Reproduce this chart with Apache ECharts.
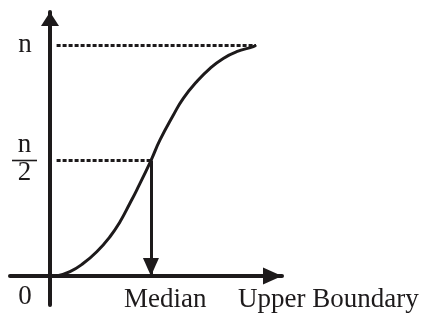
<!DOCTYPE html>
<html>
<head>
<meta charset="utf-8">
<script src="https://cdn.jsdelivr.net/npm/echarts@6/dist/echarts.min.js"></script>
<style>
  html, body { margin: 0; padding: 0; background: #fff; }
  #chart { width: 422px; height: 322px; }
</style>
</head>
<body>
<div id="chart"></div>
<script>
// ogive: cumulative frequency (0..n scaled to 0..100) vs upper class boundary
const upperBoundary = [3.2, 9.7, 16.2, 22.7, 29.1, 34.0, 38.8, 42.1, 49.0, 53.4, 59.9, 64.7, 71.2, 77.7, 84.1, 90.6, 98.7, 100];
const cumFreq = [0, 1.9, 5.5, 10.5, 17.0, 23.5, 31.5, 37.2, 50, 58.9, 69.7, 76.9, 84.1, 89.9, 94.2, 97.1, 99.3, 100];
const total = 100; // n
const half = 50; // n/2
const median = 49;
const dotStart = 3.2; // dotted guides start just right of the y axis
const yTickLabels = ['0', 'n/2', 'n'];
const xTickLabels = ['Median', 'Upper Boundary'];

const ink = '#1d1a1b';
const serif = '"Liberation Serif", "Times New Roman", serif';

const chart = echarts.init(document.getElementById('chart'));

const option = {
  animation: false,
  grid: { left: 10, right: 140, top: 12, bottom: 17 },
  xAxis: {
    type: 'value',
    min: -19.42,
    max: 112.62,
    axisLine: {
      onZero: true,
      lineStyle: { color: ink, width: 4 },
      symbol: ['none', 'triangle'],
      symbolSize: [17, 19],
      symbolOffset: [0, -9.5],
    },
    axisTick: { show: false },
    axisLabel: { show: false },
    splitLine: { show: false },
  },
  yAxis: {
    type: 'value',
    min: -12.55,
    max: 114.29,
    axisLine: {
      onZero: true,
      lineStyle: { color: ink, width: 4 },
      symbol: ['none', 'triangle'],
      symbolSize: [18, 14],
      symbolOffset: [0, -7],
    },
    axisTick: { show: false },
    axisLabel: { show: false },
    splitLine: { show: false },
  },
  series: [
    {
      type: 'line',
      data: upperBoundary.map((x, i) => [x, cumFreq[i]]),
      smooth: 0.5,
      showSymbol: false,
      itemStyle: { color: ink },
      lineStyle: { color: ink, width: 3 },
      z: 3,
      markLine: {
        silent: true,
        animation: false,
        symbol: 'none',
        label: { show: false },
        lineStyle: { color: ink, width: 3, type: [4, 2] },
        data: [
          [{ coord: [dotStart, total] }, { coord: [upperBoundary[upperBoundary.length - 1], total] }],
          [{ coord: [dotStart, half] }, { coord: [median, half] }],
          [
            { coord: [median, half], lineStyle: { type: 'solid', width: 3 } },
            { coord: [median, 0], symbol: 'triangle', symbolSize: [16, 18], symbolOffset: [0, 9] },
          ],
        ],
      },
    },
  ],
};
chart.setOption(option);

// labels placed from the axis scale
const toPx = (v) => chart.convertToPixel({ gridIndex: 0 }, v);
const pO = toPx([0, 0]);
const pHalf = toPx([0, half]);
const pN = toPx([0, total]);
const pMed = toPx([median, 0]);
const pUb = toPx([upperBoundary[upperBoundary.length - 1], 0]);
const frac = yTickLabels[1].split('/');
const txt = (text, x, y, align) => ({
  type: 'text',
  z: 100,
  style: { text, x, y, font: '27px ' + serif, fill: ink, textAlign: align, textVerticalAlign: 'middle' },
});

chart.setOption({
  graphic: [
    txt(yTickLabels[2], 25, pN[1] - 0.5, 'center'),
    txt(frac[0], 24.5, pHalf[1] - 16, 'center'),
    { type: 'line', z: 100, shape: { x1: 12, y1: pHalf[1], x2: 37, y2: pHalf[1] }, style: { stroke: ink, lineWidth: 1.6 } },
    txt(frac[1], 24.5, pHalf[1] + 12, 'center'),
    txt(yTickLabels[0], 25, pO[1] + 20.5, 'center'),
    txt(xTickLabels[0], pMed[0] - 27, pO[1] + 23.5, 'left'),
    txt(xTickLabels[1], pUb[0] - 18, pO[1] + 23.5, 'left'),
  ],
});
</script>
</body>
</html>
